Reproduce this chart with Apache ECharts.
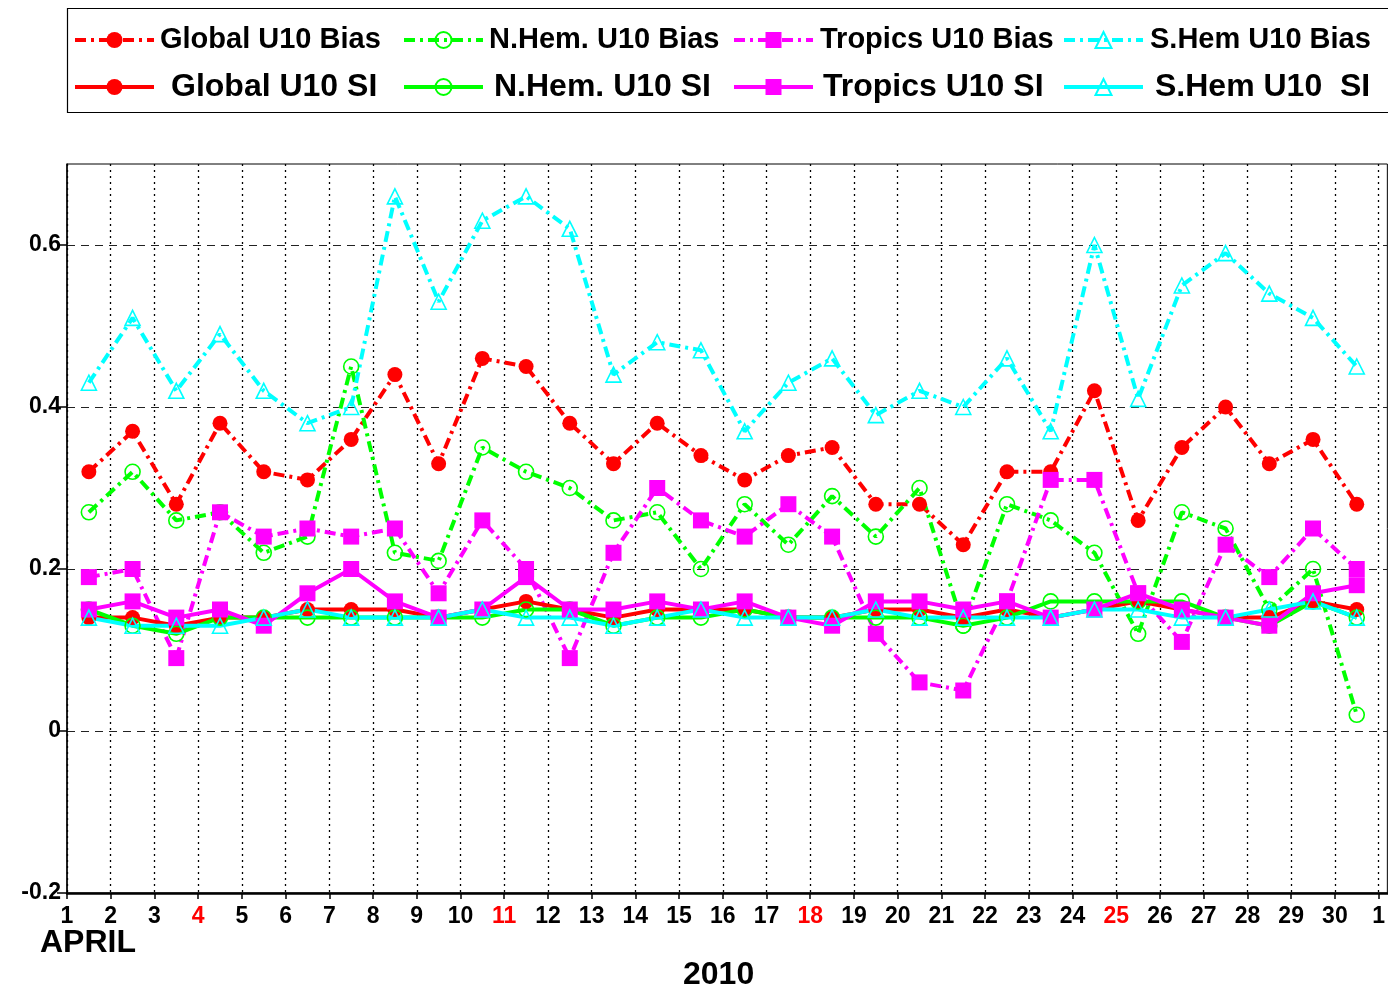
<!DOCTYPE html>
<html>
<head>
<meta charset="utf-8">
<script src="https://cdn.jsdelivr.net/npm/echarts@6/dist/echarts.min.js"></script>
<style>
html,body{margin:0;padding:0;background:#fff;}
#c{width:1388px;height:989px;}
</style>
</head>
<body>
<div id="c"></div>
<script>
// Day of April 2010 (points are plotted at the middle of each day)
const days = [1,2,3,4,5,6,7,8,9,10,11,12,13,14,15,16,17,18,19,20,21,22,23,24,25,26,27,28,29,30];
const sundays = [4, 11, 18, 25];
const xTicks = [1,2,3,4,5,6,7,8,9,10,11,12,13,14,15,16,17,18,19,20,21,22,23,24,25,26,27,28,29,30,31];

const globalBias = [0.32,0.37,0.28,0.38,0.32,0.31,0.36,0.44,0.33,0.46,0.45,0.38,0.33,0.38,0.34,0.31,0.34,0.35,0.28,0.28,0.23,0.32,0.32,0.42,0.26,0.35,0.40,0.33,0.36,0.28];
const nhemBias   = [0.27,0.32,0.26,0.27,0.22,0.24,0.45,0.22,0.21,0.35,0.32,0.30,0.26,0.27,0.20,0.28,0.23,0.29,0.24,0.30,0.13,0.28,0.26,0.22,0.12,0.27,0.25,0.15,0.20,0.02];
const tropBias   = [0.19,0.20,0.09,0.27,0.24,0.25,0.24,0.25,0.17,0.26,0.20,0.09,0.22,0.30,0.26,0.24,0.28,0.24,0.12,0.06,0.05,0.16,0.31,0.31,0.17,0.11,0.23,0.19,0.25,0.20];
const shemBias   = [0.43,0.51,0.42,0.49,0.42,0.38,0.40,0.66,0.53,0.63,0.66,0.62,0.44,0.48,0.47,0.37,0.43,0.46,0.39,0.42,0.40,0.46,0.37,0.60,0.41,0.55,0.59,0.54,0.51,0.45];

const globalSI = [0.14,0.14,0.13,0.14,0.14,0.15,0.15,0.15,0.14,0.15,0.16,0.15,0.14,0.15,0.15,0.15,0.14,0.14,0.15,0.15,0.14,0.15,0.14,0.15,0.16,0.15,0.14,0.14,0.16,0.15];
const nhemSI   = [0.15,0.13,0.12,0.14,0.14,0.14,0.14,0.14,0.14,0.14,0.15,0.15,0.13,0.14,0.14,0.15,0.14,0.14,0.14,0.14,0.13,0.14,0.16,0.16,0.16,0.16,0.14,0.13,0.16,0.14];
const tropSI   = [0.15,0.16,0.14,0.15,0.13,0.17,0.20,0.16,0.14,0.15,0.19,0.15,0.15,0.16,0.15,0.16,0.14,0.13,0.16,0.16,0.15,0.16,0.14,0.15,0.17,0.15,0.14,0.13,0.17,0.18];
const shemSI   = [0.14,0.13,0.13,0.13,0.14,0.15,0.14,0.14,0.14,0.15,0.14,0.14,0.13,0.14,0.15,0.14,0.14,0.14,0.15,0.14,0.14,0.14,0.14,0.15,0.15,0.14,0.14,0.15,0.16,0.14];

const yTicks = [-0.2, 0, 0.2, 0.4, 0.6];

const FONT = '"Liberation Sans", Arial, sans-serif';
const RED = '#ff0000', GREEN = '#00ff00', MAG = '#ff00ff', CYAN = '#00ffff';
const DASHDOT = [11, 5, 3, 5];

function pts(vals) { return vals.map((v, i) => [days[i] + 0.5, v]); }

function mkSeries(name, vals, color, dash, symbol, filled, size) {
  return {
    name: name, type: 'line', data: pts(vals),
    symbol: symbol, symbolSize: size,
    color: color,
    lineStyle: { color: color, width: 4, type: dash ? DASHDOT : 'solid' },
    itemStyle: filled ? { color: color, borderColor: color, borderWidth: 0 }
                      : { color: 'rgba(255,255,255,0)', borderColor: color, borderWidth: 1.6 },
    emphasis: { disabled: true },
    animation: false
  };
}

const series = [
  mkSeries('Global U10 Bias', globalBias, RED, true, 'circle', true, 15),
  mkSeries('N.Hem. U10 Bias', nhemBias, GREEN, true, 'circle', false, 15),
  mkSeries('Tropics U10 Bias', tropBias, MAG, true, 'rect', true, 16),
  mkSeries('S.Hem U10 Bias', shemBias, CYAN, true, 'triangle', false, 15),
  mkSeries('Global U10 SI', globalSI, RED, false, 'circle', true, 15),
  mkSeries('N.Hem. U10 SI', nhemSI, GREEN, false, 'circle', false, 15),
  mkSeries('Tropics U10 SI', tropSI, MAG, false, 'rect', true, 16),
  mkSeries('S.Hem U10  SI', shemSI, CYAN, false, 'triangle', false, 15)
];

const colLeft = [73, 402, 732, 1062];
const row1Pad = [1, 1, 2, 2];
const row2Pad = [12, 6, 5, 7];
const legends = series.map((s, i) => {
  const row = i < 4 ? 0 : 1;
  const col = i % 4;
  return {
    data: [s.name],
    left: colLeft[col],
    top: row === 0 ? 23 : 68,
    padding: 0,
    itemWidth: 79,
    itemHeight: 20,
    selectedMode: false,
    lineStyle: { width: 4 },
    textStyle: {
      fontFamily: FONT, fontWeight: 'bold', color: '#000',
      fontSize: row === 0 ? 29 : 32,
      lineHeight: row === 0 ? 34 : 38,
      padding: row === 0 ? [0, 0, 0, row1Pad[col]] : [0, 0, 0, row2Pad[col]]
    }
  };
});

const chart = echarts.init(document.getElementById('c'), null, { renderer: 'canvas' });
chart.setOption({
  backgroundColor: '#fff',
  animation: false,
  title: [
    { text: 'APRIL', left: 40, top: 925, padding: 0,
      textStyle: { fontFamily: FONT, fontWeight: 'bold', fontSize: 32, lineHeight: 36, color: '#000' } },
    { text: '2010', left: 683, top: 957, padding: 0,
      textStyle: { fontFamily: FONT, fontWeight: 'bold', fontSize: 32, lineHeight: 36, color: '#000' } }
  ],
  graphic: [
    { type: 'rect', shape: { x: 67.5, y: 8.5, width: 1340, height: 104 },
      style: { fill: 'none', stroke: '#000', lineWidth: 1.2 }, silent: true, z: 0 }
  ],
  legend: legends,
  grid: { left: 67, right: -1, top: 164, bottom: 96, show: true, borderColor: '#000', borderWidth: 1, backgroundColor: 'transparent' },
  xAxis: {
    type: 'value', min: 1, max: 31.2, interval: 1,
    axisLine: { show: true, onZero: false, lineStyle: { color: '#000', width: 2.5 } },
    axisTick: { show: true, length: 6, customValues: xTicks, lineStyle: { color: '#000', width: 1.5 } },
    axisLabel: {
      margin: 12,
      customValues: xTicks,
      fontFamily: FONT, fontWeight: 'bold', fontSize: 23, color: '#000',
      formatter: function (v) {
        const d = Math.round(v);
        const t = d === 31 ? '1' : String(d);
        return sundays.indexOf(d) >= 0 ? '{r|' + t + '}' : t;
      },
      rich: { r: { color: '#ff0000', fontFamily: FONT, fontWeight: 'bold', fontSize: 23 } }
    },
    splitLine: { show: true, lineStyle: { color: '#000', width: 1.3, type: [2, 4] } }
  },
  yAxis: {
    type: 'value', min: -0.2, max: 0.7, interval: 0.2,
    axisLine: { show: true, onZero: false, lineStyle: { color: '#000', width: 1.5 } },
    axisTick: { show: true, length: 10, customValues: yTicks, lineStyle: { color: '#000', width: 1.5 } },
    axisLabel: {
      margin: 6,
      customValues: yTicks,
      fontFamily: FONT, fontWeight: 'bold', fontSize: 23, color: '#000',
      formatter: function (v) {
        for (const t of yTicks) { if (Math.abs(v - t) < 1e-6) return String(t); }
        return '';
      }
    },
    splitLine: { show: true, lineStyle: { color: '#222', width: 1.2, type: [8, 6] } }
  },
  series: series
});
</script>
</body>
</html>
